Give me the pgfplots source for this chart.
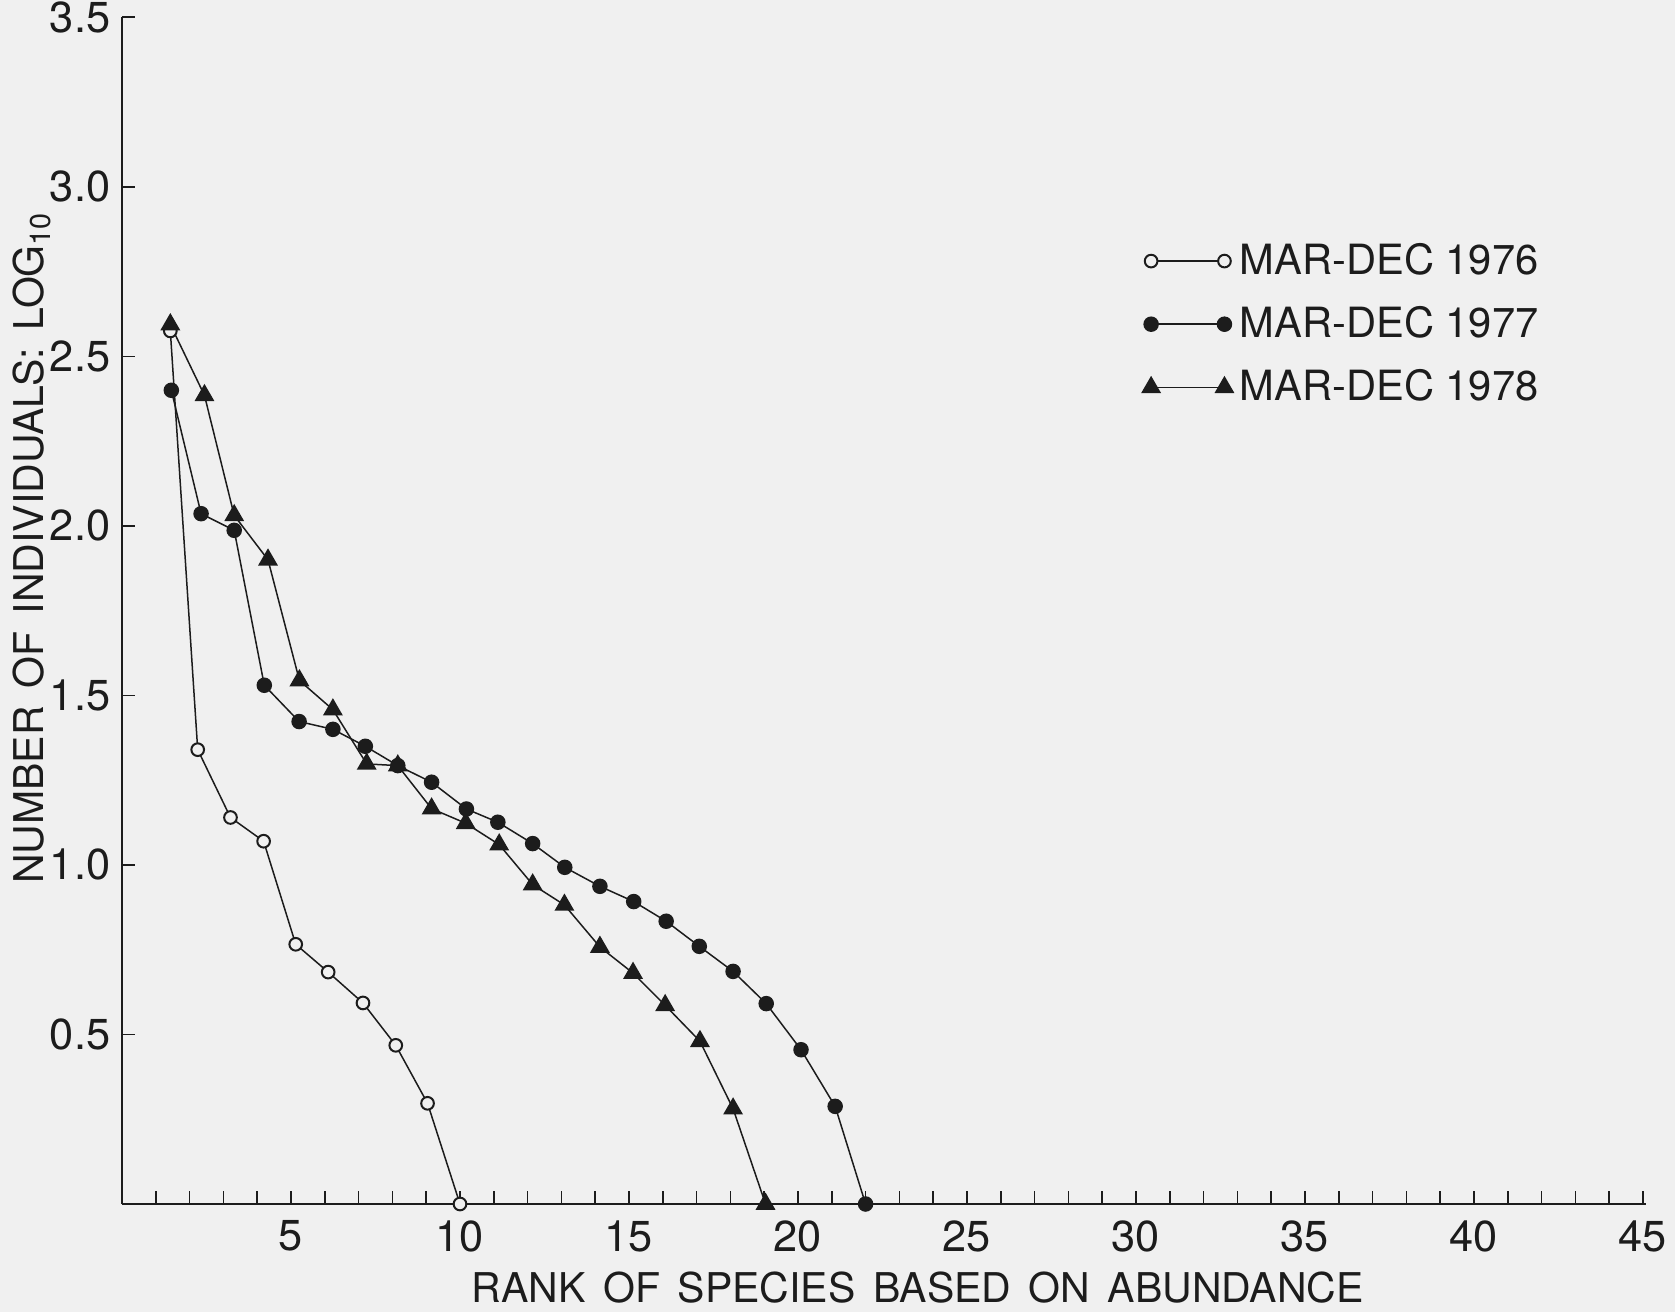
\documentclass[border=0pt]{standalone}
\usepackage{fontspec}
\setmainfont{TeX Gyre Heros}
\usepackage{pgfplots}
\pgfplotsset{compat=1.18}
\definecolor{bg}{RGB}{240,240,240}
\definecolor{ink}{RGB}{28,28,28}
\newcommand{\ws}{\ \kern0.15em}
\begin{document}
\begin{tikzpicture}
\path[use as bounding box, fill=bg] (-36.6pt,-32.4pt) rectangle (465.9pt,361.2pt);
\begin{axis}[
  at={(0pt,0pt)}, anchor=south west,
  scale only axis, width=457.3pt, height=356pt,
  xmin=0, xmax=45.1, ymin=0, ymax=3.5,
  axis x line*=bottom, axis y line*=left,
  axis line style={ink, line width=0.6pt, -},
  xtick={5,10,...,45},
  minor xtick={1,...,44},
  ytick={0.5,1,1.5,2,2.5,3,3.5},
  tick align=inside,
  major tick length=4pt, minor tick length=4pt,
  tick style={ink, line width=0.5pt},
  /pgf/number format/assume math mode=true,
  ticklabel style={font=\fontsize{13}{15}\selectfont, text=ink},
  yticklabel style={/pgf/number format/.cd, fixed, fixed zerofill, precision=1},
  xticklabel style={yshift=-1.5pt, /pgf/number format/.cd, fixed, precision=0},
  xlabel={RANK\ws OF\ws SPECIES\ws BASED\ws ON\ws ABUNDANCE},
  ylabel={NUMBER\ws OF\ws INDIVIDUALS:\ws LOG\textsubscript{10}},
  label style={font=\fontsize{12.3}{15}\selectfont, text=ink},
  xlabel style={at={(axis description cs:0.522,-0.07)}, anchor=center},
  ylabel style={at={(axis description cs:-0.059,0.553)}, anchor=center},
  legend style={at={(axis description cs:0.669,0.816)}, anchor=north west,
    draw=none, fill=none, inner sep=0pt, row sep=4.1pt,
    font=\fontsize{12.5}{15}\selectfont, text=ink, cells={anchor=west}},
  legend image code/.code={\draw[#1] plot coordinates {(0pt,0pt) (22pt,0pt)};},
]
\addplot[ink, line width=0.45pt, mark=*, mark size=1.9pt, mark options={fill=bg, line width=0.6pt}]
coordinates {
(1.43,2.575) (2.24,1.34) (3.21,1.14) (4.19,1.07) (5.14,0.766) (6.10,0.684)
(7.13,0.593) (8.10,0.468) (9.04,0.297) (10.0,0.0)
};
\addlegendentry{MAR-DEC 1976}
\addplot[ink, line width=0.45pt, mark=*, mark size=2.1pt, mark options={fill=ink}]
coordinates {
(1.46,2.40) (2.34,2.036) (3.32,1.987) (4.21,1.53) (5.24,1.423) (6.24,1.40)
(7.20,1.35) (8.16,1.293) (9.16,1.244) (10.19,1.165) (11.12,1.126) (12.15,1.063)
(13.10,0.993) (14.14,0.937) (15.14,0.892) (16.10,0.834) (17.08,0.76) (18.08,0.686)
(19.06,0.591) (20.09,0.455) (21.10,0.288) (22.0,0.0)
};
\addlegendentry{MAR-DEC 1977}
\addplot[ink, line width=0.45pt, mark=triangle*, mark size=3pt, mark options={fill=ink}]
coordinates {
(1.43,2.594) (2.44,2.385) (3.32,2.031) (4.32,1.90) (5.25,1.544) (6.24,1.458)
(7.24,1.298) (8.16,1.293) (9.16,1.166) (10.17,1.123) (11.16,1.06) (12.15,0.942)
(13.09,0.882) (14.14,0.758) (15.12,0.681) (16.07,0.586) (17.10,0.480) (18.08,0.281)
(19.04,0.0)
};
\addlegendentry{MAR-DEC 1978}
\end{axis}
\end{tikzpicture}
\end{document}
